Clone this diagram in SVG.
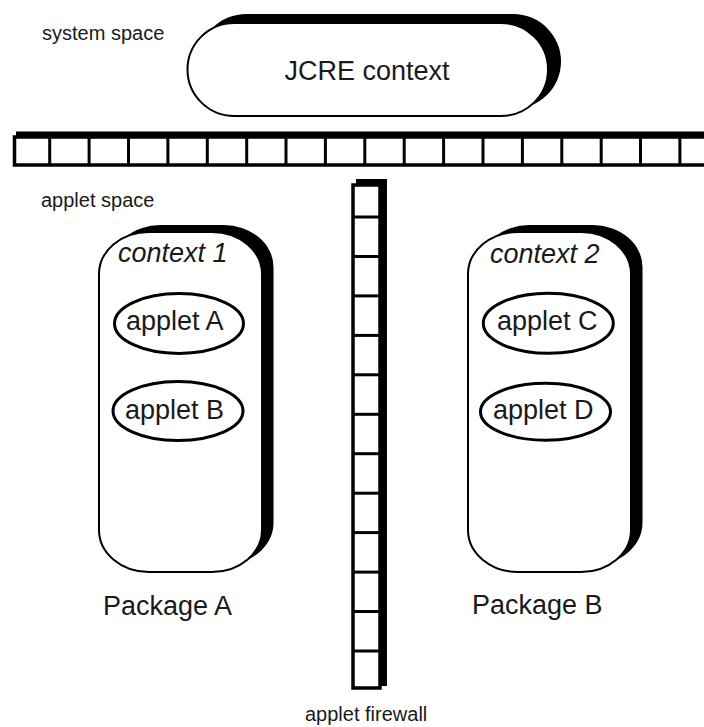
<svg xmlns="http://www.w3.org/2000/svg" xmlns:xlink="http://www.w3.org/1999/xlink" width="704" height="727" viewBox="0 0 704 727">
  <style>
    .label { font-family: "Liberation Sans", Arial, sans-serif; fill: #1a1a1a; }
    .small { font-size: 20px; }
    .big { font-size: 27px; }
    .ital { font-style: italic; }
    .shadow { fill: #000; stroke: none; }
    .body { fill: #fff; stroke: #000; stroke-width: 2; }
    .oval { fill: #fff; stroke: #000; stroke-width: 3; }
    .bar { fill: #fff; stroke: #000; stroke-width: 3.5; }
    .cell { stroke: #000; stroke-width: 3; }
  </style>
  <defs>
    <!-- package context capsule, drawn at origin -->
    <rect id="capsule" x="0" y="0" width="163" height="340" rx="50" ry="42"/>
  </defs>

  <rect x="0" y="0" width="704" height="727" fill="#fff"/>

  <!-- region captions -->
  <text class="label small" x="42" y="40">system space</text>
  <text class="label small" x="41" y="207">applet space</text>
  <text class="label small" x="305" y="721">applet firewall</text>

  <!-- JCRE context -->
  <g id="jcre">
    <rect class="shadow" x="198.5" y="14" width="362.5" height="95" rx="48" ry="47.5"/>
    <rect class="body" x="187.5" y="23" width="360.5" height="93" rx="47" ry="46.5"/>
    <text class="label big" x="367" y="80" text-anchor="middle">JCRE context</text>
  </g>

  <!-- horizontal firewall between system space and applet space -->
  <g id="system-firewall">
    <rect class="shadow" x="16" y="131.5" width="700" height="30"/>
    <rect class="bar" x="14.5" y="137" width="700" height="28"/>
    <g class="cell">
      <line x1="49.7" y1="137" x2="49.7" y2="165"/>
      <line x1="89.1" y1="137" x2="89.1" y2="165"/>
      <line x1="128.5" y1="137" x2="128.5" y2="165"/>
      <line x1="167.9" y1="137" x2="167.9" y2="165"/>
      <line x1="207.3" y1="137" x2="207.3" y2="165"/>
      <line x1="246.7" y1="137" x2="246.7" y2="165"/>
      <line x1="286.0" y1="137" x2="286.0" y2="165"/>
      <line x1="325.4" y1="137" x2="325.4" y2="165"/>
      <line x1="364.8" y1="137" x2="364.8" y2="165"/>
      <line x1="404.2" y1="137" x2="404.2" y2="165"/>
      <line x1="443.6" y1="137" x2="443.6" y2="165"/>
      <line x1="483.0" y1="137" x2="483.0" y2="165"/>
      <line x1="522.4" y1="137" x2="522.4" y2="165"/>
      <line x1="561.8" y1="137" x2="561.8" y2="165"/>
      <line x1="601.2" y1="137" x2="601.2" y2="165"/>
      <line x1="640.5" y1="137" x2="640.5" y2="165"/>
      <line x1="679.9" y1="137" x2="679.9" y2="165"/>
    </g>
  </g>

  <!-- vertical firewall between the two packages -->
  <g id="applet-firewall">
    <rect class="shadow" x="356" y="179" width="31" height="507"/>
    <rect class="bar" x="353" y="185" width="27" height="503"/>
    <g class="cell">
      <line x1="353" y1="217.0" x2="380" y2="217.0"/>
      <line x1="353" y1="256.5" x2="380" y2="256.5"/>
      <line x1="353" y1="295.9" x2="380" y2="295.9"/>
      <line x1="353" y1="335.4" x2="380" y2="335.4"/>
      <line x1="353" y1="374.8" x2="380" y2="374.8"/>
      <line x1="353" y1="414.3" x2="380" y2="414.3"/>
      <line x1="353" y1="453.7" x2="380" y2="453.7"/>
      <line x1="353" y1="493.2" x2="380" y2="493.2"/>
      <line x1="353" y1="532.6" x2="380" y2="532.6"/>
      <line x1="353" y1="572.1" x2="380" y2="572.1"/>
      <line x1="353" y1="611.5" x2="380" y2="611.5"/>
      <line x1="353" y1="651.0" x2="380" y2="651.0"/>
    </g>
  </g>

  <!-- Package A : context 1 -->
  <g id="package-a">
    <use xlink:href="#capsule" href="#capsule" class="shadow" x="110.5" y="225"/>
    <use xlink:href="#capsule" href="#capsule" class="body" x="99" y="232"/>
    <text class="label big ital" x="118" y="262">context 1</text>
    <text class="label big" x="103" y="615">Package A</text>
  </g>
  <g id="applet-a">
    <ellipse class="oval" cx="179" cy="323.5" rx="64.5" ry="30"/>
    <text class="label big" x="126" y="330">applet A</text>
  </g>
  <g id="applet-b">
    <ellipse class="oval" cx="178" cy="411" rx="65" ry="29.5"/>
    <text class="label big" x="125" y="419">applet B</text>
  </g>

  <!-- Package B : context 2 -->
  <g id="package-b">
    <use xlink:href="#capsule" href="#capsule" class="shadow" x="479.5" y="225"/>
    <use xlink:href="#capsule" href="#capsule" class="body" x="468" y="232"/>
    <text class="label big ital" x="490" y="263">context 2</text>
    <text class="label big" x="472" y="614">Package B</text>
  </g>
  <g id="applet-c">
    <ellipse class="oval" cx="548.3" cy="323.3" rx="65" ry="30"/>
    <text class="label big" x="497" y="330">applet C</text>
  </g>
  <g id="applet-d">
    <ellipse class="oval" cx="545.5" cy="411.7" rx="65" ry="28.5"/>
    <text class="label big" x="493" y="419">applet D</text>
  </g>
</svg>
